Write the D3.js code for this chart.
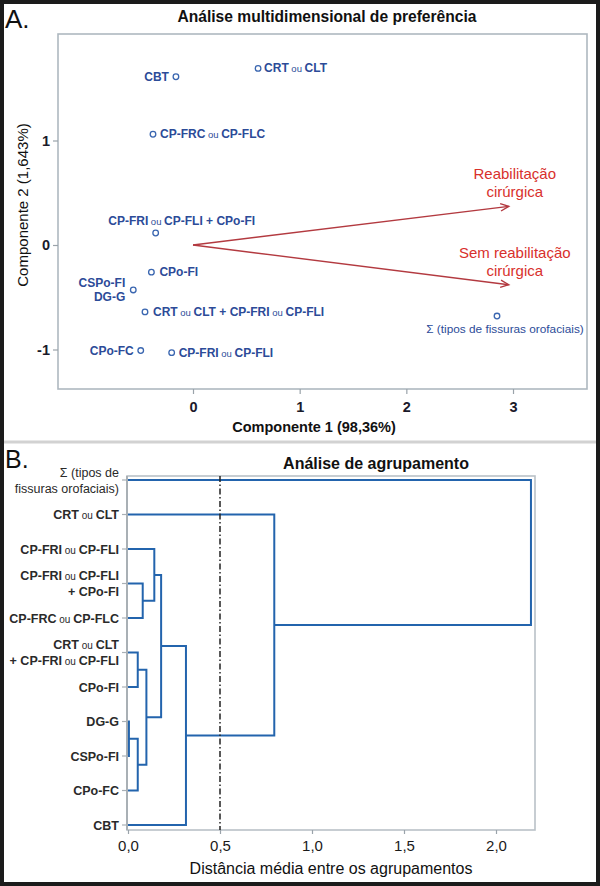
<!DOCTYPE html>
<html><head><meta charset="utf-8">
<script src="https://cdn.jsdelivr.net/npm/d3@7/dist/d3.min.js"></script>
<style>
body{margin:0;background:#fff}
svg{display:block}
text{font-family:"Liberation Sans",Arial,Helvetica,sans-serif;white-space:pre}
</style>
</head><body>
<svg id="chart" width="600" height="886"></svg>
<script>
// ---------------- DATA ----------------
// Panel A: multidimensional preference analysis (biplot)
const pointNames = ["CBT","CRT ou CLT","CP-FRC ou CP-FLC","CP-FRI ou CP-FLI + CPo-FI","CPo-FI",
  "CSPo-FI|DG-G","CRT ou CLT + CP-FRI ou CP-FLI","Σ (tipos de fissuras orofaciais)","CPo-FC","CP-FRI ou CP-FLI"];
const comp1 = [-0.16, 0.61, -0.375, -0.35, -0.39, -0.56, -0.45, 2.85, -0.49, -0.20];
const comp2 = [1.61, 1.69, 1.06, 0.115, -0.26, -0.43, -0.64, -0.68, -1.01, -1.03];
const vectorNames = [["Reabilitação","cirúrgica"],["Sem reabilitação","cirúrgica"]];
const vectorC1 = [2.96, 2.96];
const vectorC2 = [0.37, -0.38];
const xTicksA = [0,1,2,3];
const yTicksA = [-1,0,1];

// Panel B: cluster analysis (dendrogram)
const leafNames = ["Σ (tipos de fissuras orofaciais)","CRT ou CLT","CP-FRI ou CP-FLI","CP-FRI ou CP-FLI + CPo-FI",
  "CP-FRC ou CP-FLC","CRT ou CLT + CP-FRI ou CP-FLI","CPo-FI","DG-G","CSPo-FI","CPo-FC","CBT"];
const leafLines = [["Σ (tipos de","fissuras orofaciais)"],["CRT ou CLT"],["CP-FRI ou CP-FLI"],["CP-FRI ou CP-FLI","+ CPo-FI"],
  ["CP-FRC ou CP-FLC"],["CRT ou CLT","+ CP-FRI ou CP-FLI"],["CPo-FI"],["DG-G"],["CSPo-FI"],["CPo-FC"],["CBT"]];
// merges: [left, right, distance]; "#k" refers to merge k (1-based)
const mergeLeft   = ["DG-G","CRT ou CLT + CP-FRI ou CP-FLI","#1","CP-FRI ou CP-FLI + CPo-FI","#2","CP-FRI ou CP-FLI","#6","#7","CRT ou CLT","Σ (tipos de fissuras orofaciais)"];
const mergeRight  = ["CSPo-FI","CPo-FI","CPo-FC","CP-FRC ou CP-FLC","#3","#4","#5","CBT","#8","#9"];
const mergeHeight = [0.005, 0.053, 0.053, 0.08, 0.10, 0.143, 0.18, 0.315, 0.795, 2.19];
const xTicksB = [0, 0.5, 1.0, 1.5, 2.0];
const cutoffB = 0.5;

// ---------------- LAYOUT / STYLE ----------------
const svg = d3.select("#chart");
const blueLbl = "#2c4b98", blueMark = "#3a66b0", dendroBlue = "#2364ad";
const frameGray = "#aeb8c0", redLbl = "#d8302c", arrowRed = "#b33a40";
const fmtComma = d => d3.format(".1f")(d).replace(".", ",");

function richText(sel, str, smallSize){
  str.split(/( ou )/).forEach(p => {
    if (p === " ou ") sel.append("tspan").attr("font-size", smallSize).attr("font-weight","normal").text(" ou ");
    else sel.append("tspan").text(p);
  });
}

// Outer border & separator
svg.append("rect").attr("x",2).attr("y",2).attr("width",596).attr("height",882)
  .attr("fill","none").attr("stroke","#1b1b1b").attr("stroke-width",4);
svg.append("line").attr("x1",4).attr("x2",596).attr("y1",442).attr("y2",442)
  .attr("stroke","#d2d2d2").attr("stroke-width",3);

// ========== PANEL A ==========
const A = {left:58, right:587, top:34, bottom:389};
const xA = d3.scaleLinear().domain([(A.left-193)/106.67, (A.right-193)/106.67]).range([A.left, A.right]);
const yA = d3.scaleLinear().domain([(245-A.top)/104.5, (245-A.bottom)/104.5]).range([A.top, A.bottom]);

svg.append("text").attr("x",5).attr("y",28).attr("font-size",26).attr("fill","#111").text("A.");
svg.append("text").attr("x",327).attr("y",22).attr("text-anchor","middle").attr("font-size",15.6)
  .attr("font-weight","bold").attr("fill","#111").text("Análise multidimensional de preferência");

svg.append("rect").attr("x",A.left).attr("y",A.top).attr("width",A.right-A.left).attr("height",A.bottom-A.top)
  .attr("fill","none").attr("stroke",frameGray).attr("stroke-width",1.6);

// axes
const gxA = svg.append("g").attr("transform",`translate(0,${A.bottom})`)
  .call(d3.axisBottom(xA).tickValues(xTicksA).tickSize(5).tickPadding(8).tickFormat(d3.format("d")));
const gyA = svg.append("g").attr("transform",`translate(${A.left},0)`)
  .call(d3.axisLeft(yA).tickValues(yTicksA).tickSize(5).tickPadding(3).tickFormat(d => d < 0 ? "-" + Math.abs(d) : d));
[gxA, gyA].forEach(g => {
  g.select(".domain").remove();
  g.selectAll(".tick line").attr("stroke","#9aa3aa").attr("stroke-width",1.2);
  g.selectAll(".tick text").attr("font-size",14.5).attr("font-weight","bold").attr("fill","#1a1a2a")
    .attr("font-family",'"Liberation Sans",Arial,sans-serif');
});

svg.append("text").attr("x",314).attr("y",432).attr("text-anchor","middle").attr("font-size",14.5)
  .attr("font-weight","bold").attr("fill","#111").text("Componente 1 (98,36%)");
svg.append("text").attr("transform","translate(28,205) rotate(-90)").attr("text-anchor","middle")
  .attr("font-size",15).attr("fill","#111").text("Componente 2 (1,643%)");

// vectors
const ox = xA(0), oy = yA(0);
vectorC1.forEach((vx, i) => {
  const tx = xA(vx), ty = yA(vectorC2[i]);
  const ang = Math.atan2(ty - oy, tx - ox), L = 9, a = 0.42;
  svg.append("line").attr("x1",ox).attr("y1",oy).attr("x2",tx).attr("y2",ty)
    .attr("stroke",arrowRed).attr("stroke-width",1.4);
  svg.append("path").attr("d", d3.line()([
      [tx - L*Math.cos(ang - a), ty - L*Math.sin(ang - a)], [tx, ty],
      [tx - L*Math.cos(ang + a), ty - L*Math.sin(ang + a)]]))
    .attr("fill","none").attr("stroke",arrowRed).attr("stroke-width",1.4);
  const t = svg.append("text").attr("text-anchor","middle").attr("font-size",15).attr("fill",redLbl);
  vectorNames[i].forEach((ln, j) => t.append("tspan").attr("x", tx + 6).attr("y", ty - 27 + j*18).text(ln));
});

// points
const placeA = {
  "CBT": {anchor:"end", dx:-7, dy:4},
  "CRT ou CLT": {anchor:"start", dx:6, dy:4},
  "CP-FRC ou CP-FLC": {anchor:"start", dx:7, dy:4},
  "CP-FRI ou CP-FLI + CPo-FI": {anchor:"middle", dx:26, dy:-8},
  "CPo-FI": {anchor:"start", dx:8, dy:4},
  "CSPo-FI|DG-G": {anchor:"end", dx:-8, dy:-3, lineGap:14},
  "CRT ou CLT + CP-FRI ou CP-FLI": {anchor:"start", dx:8, dy:4},
  "Σ (tipos de fissuras orofaciais)": {anchor:"middle", dx:8, dy:17, regular:true},
  "CPo-FC": {anchor:"end", dx:-7, dy:4},
  "CP-FRI ou CP-FLI": {anchor:"start", dx:7, dy:4}
};
pointNames.forEach((name, i) => {
  const px = xA(comp1[i]), py = yA(comp2[i]);
  svg.append("circle").attr("cx",px).attr("cy",py).attr("r",2.8)
    .attr("fill","#fff").attr("stroke",blueMark).attr("stroke-width",1.3);
  const p = placeA[name];
  name.split("|").forEach((ln, j) => {
    const t = svg.append("text").attr("x", px + p.dx).attr("y", py + p.dy + j*(p.lineGap||0))
      .attr("text-anchor", p.anchor).attr("fill", blueLbl)
      .attr("font-size", p.regular ? 11.8 : 12).attr("font-weight", p.regular ? "normal" : "bold");
    richText(t, ln, 9.5);
  });
});

// ========== PANEL B ==========
const B = {left:127, right:535, top:476, bottom:830};
const xB = d3.scaleLinear().domain([0, (B.right-128)/184]).range([128, B.right]);
const yB = d3.scalePoint().domain(leafNames).range([480, 825]);

svg.append("text").attr("x",5).attr("y",468).attr("font-size",25).attr("fill","#111").text("B.");
svg.append("text").attr("x",376).attr("y",469).attr("text-anchor","middle").attr("font-size",16)
  .attr("font-weight","bold").attr("fill","#111").text("Análise de agrupamento");

svg.append("rect").attr("x",B.left).attr("y",B.top).attr("width",B.right-B.left).attr("height",B.bottom-B.top)
  .attr("fill","none").attr("stroke","#b9c1c7").attr("stroke-width",1.6);
svg.append("line").attr("x1",B.left).attr("x2",B.left).attr("y1",B.top).attr("y2",B.bottom)
  .attr("stroke","#a9b0b5").attr("stroke-width",2);

const gxB = svg.append("g").attr("transform",`translate(0,${B.bottom})`)
  .call(d3.axisBottom(xB).tickValues(xTicksB).tickSize(4).tickPadding(6).tickFormat(fmtComma));
gxB.select(".domain").remove();
gxB.selectAll(".tick line").attr("stroke","#9aa3aa").attr("stroke-width",1.2);
gxB.selectAll(".tick text").attr("font-size",15).attr("fill","#1a1a1a").attr("font-family",'"Liberation Sans",Arial,sans-serif');

svg.append("text").attr("x",331).attr("y",874).attr("text-anchor","middle").attr("font-size",16)
  .attr("fill","#111").text("Distância média entre os agrupamentos");

// leaf ticks & labels
leafNames.forEach((nm, i) => {
  const y = yB(nm);
  svg.append("line").attr("x1",B.left-5).attr("x2",B.left).attr("y1",y).attr("y2",y)
    .attr("stroke","#a9b0b5").attr("stroke-width",1.2);
  const lines = leafLines[i], isSigma = nm.startsWith("Σ");
  lines.forEach((ln, j) => {
    const t = svg.append("text").attr("x", 119).attr("y", y + 4.5 + (j - (lines.length-1)/2)*16)
      .attr("text-anchor","end").attr("fill","#2a2a2a")
      .attr("font-size", 12.5).attr("font-weight", isSigma ? "normal" : "bold");
    richText(t, ln, 10);
  });
});

// build hierarchy from merges
const nodes = {};
leafNames.forEach(n => nodes[n] = {name:n, h:0});
mergeHeight.forEach((h, k) => {
  const ref = r => nodes[r];
  nodes["#" + (k+1)] = {name:"#" + (k+1), h, children:[ref(mergeLeft[k]), ref(mergeRight[k])]};
});
const root = d3.hierarchy(nodes["#" + mergeHeight.length]);
root.eachAfter(d => {
  d.py = d.children ? d3.mean(d.children, c => c.py) : yB(d.data.name);
});
root.each(d => {
  if (!d.children) return;
  const [a, b] = d.children, x = xB(d.data.h);
  const p = d3.path();
  p.moveTo(xB(a.data.h), a.py); p.lineTo(x, a.py); p.lineTo(x, b.py); p.lineTo(xB(b.data.h), b.py);
  svg.append("path").attr("d", p.toString()).attr("fill","none")
    .attr("stroke", dendroBlue).attr("stroke-width",2);
});

// cutoff line
svg.append("line").attr("x1",xB(cutoffB)).attr("x2",xB(cutoffB)).attr("y1",B.top).attr("y2",B.bottom)
  .attr("stroke","#222").attr("stroke-width",1.5).attr("stroke-dasharray","6,2.5,1.5,2.5");
</script>
</body></html>
